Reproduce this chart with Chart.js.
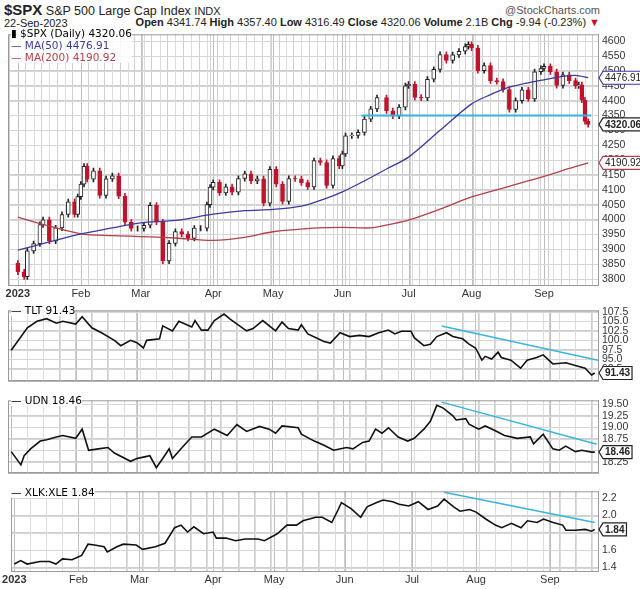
<!DOCTYPE html>
<html><head><meta charset="utf-8">
<script src="https://cdn.jsdelivr.net/npm/chart.js@4"></script>
<style>
body{margin:0;background:#fff;font-family:"Liberation Sans",Arial,sans-serif;}
#wrap{position:relative;width:640px;height:589px;overflow:hidden;}
.pan{position:absolute;left:0;width:640px;}
.t{position:absolute;white-space:nowrap;color:#222;}
.leg{position:absolute;left:11px;font-family:"DejaVu Sans",sans-serif;font-size:10.5px;line-height:12px;background:rgba(255,255,255,0.85);}
</style></head><body><div id="wrap">
<div class="t" style="left:4px;top:1px;font-size:12.5px;"><b style="font-size:15px;">$SPX</b> S&amp;P 500 Large Cap Index <span style="font-size:11px">INDX</span></div>
<div class="t" style="right:40px;top:4px;font-size:11px;color:#555;">@StockCharts.com</div>
<div class="t" style="left:4px;top:17px;font-size:11px;">22-Sep-2023</div>
<div class="t" style="right:40px;top:16px;font-size:11px;"><b>Open</b> 4341.74 <b>High</b> 4357.40 <b>Low</b> 4316.49 <b>Close</b> 4320.06 <b>Volume</b> 2.1B <b>Chg</b> -9.94 (-0.23%) <span style="color:#c0142c">▼</span></div>
<div class="pan" style="top:24px;height:276px;"><canvas id="c0"></canvas></div>
<div class="pan" style="top:300px;height:91px;"><canvas id="c1"></canvas></div>
<div class="pan" style="top:390px;height:93px;"><canvas id="c2"></canvas></div>
<div class="pan" style="top:481px;height:108px;"><canvas id="c3"></canvas></div>
<div class="leg" style="top:27px;">▮ $SPX (Daily) 4320.06<br><span style="color:#3a3a9a">— MA(50) 4476.91</span><br><span style="color:#b0404a">— MA(200) 4190.92</span></div>
<div class="leg" style="top:304px;">— TLT 91.43</div>
<div class="leg" style="top:394px;">— UDN 18.46</div>
<div class="leg" style="top:486px;">— XLK:XLE 1.84</div>
</div>
<script>
// ---- data ----
const monthIdx = [0,20,39,62,81,103,124,144,167];
const monthLbl = ['2023','Feb','Mar','Apr','May','Jun','Jul','Aug','Sep'];
const spxDays = [0,2,3,5,7,8,10,12,14,16,18,19,20,21,22,24,26,28,30,32,34,36,38,40,42,44,46,48,50,52,54,56,58,60,61,62,64,66,68,70,72,74,76,78,80,82,84,86,88,90,92,94,96,98,100,102,103,104,106,108,110,112,114,117,119,121,123,124,126,128,130,132,134,136,138,140,142,143,144,146,148,150,152,154,156,158,160,162,164,166,167,169,171,173,175,177,178,179,180,181];
const spxClose = [3824,3808,3895,3919,3983,3999,3928,3972,4017,4060,4017,4077,4119,4179,4136,4164,4081,4137,4147,4079,3991,3970,3970,3981,4048,3992,3861,3920,3960,3951,3937,3971,3971,4050,4109,4125,4090,4110,4092,4138,4154,4130,4137,4055,4169,4119,4061,4138,4137,4124,4110,4198,4192,4115,4205,4180,4221,4282,4283,4293,4338,4372,4410,4366,4348,4378,4450,4455,4411,4409,4472,4505,4555,4535,4554,4566,4582,4589,4577,4501,4518,4467,4464,4437,4370,4400,4436,4406,4497,4508,4515,4497,4451,4487,4467,4450,4453,4402,4330,4320];
const ma50Days = [0,10,20,30,39,50,62,72,81,90,97,103,110,117,124,134,144,150,156,162,167,172,177,181];
const ma50 = [3897,3925,3952,3972,3989,3997,4018,4030,4034,4045,4068,4093,4130,4170,4210,4300,4389,4420,4445,4460,4470,4480,4485,4477];
const ma200Days = [0,10,20,30,39,50,62,72,81,95,103,112,118,124,134,144,156,167,175,181];
const ma200 = [4008,3978,3952,3946,3943,3938,3930,3940,3959,3972,3974,3972,3984,3998,4035,4076,4112,4145,4172,4191];
const tltDays = [0,5,8,11,14,16,20,22,25,28,32,34,37,39,41,42,46,47,50,52,56,57,59,61,63,66,68,73,75,78,82,84,86,89,90,92,97,99,102,105,108,111,114,117,119,121,124,125,128,130,132,135,137,140,142,144,146,147,149,151,152,155,158,160,163,165,168,172,175,178,180,181];
const tlt = [97.4,103.3,105,105.7,104.5,105,104.3,106.2,103.3,102,100,98.6,100,99.4,98,100,100.4,103.8,102.5,105,103.5,105.2,102.7,102.7,105.2,106.9,105.5,102.5,103.1,105.2,102.5,104.8,103.1,102.7,104.1,101.7,99.7,99.3,102,101,101.3,101,102,102.7,101.7,102.4,102.4,100.7,98.6,99,101,102,101,100.4,99,98,94.8,95.8,95.1,96.9,95.5,94.8,92.7,94.8,95.5,96.2,93.8,94.1,93.4,92.7,90.9,91.43];
const udnDays = [0,3,4,6,9,11,14,16,20,22,24,27,30,32,37,39,41,43,45,47,49,50,53,56,59,63,67,70,73,77,80,82,84,89,90,94,97,100,104,106,109,111,113,115,117,120,123,125,128,130,132,134,137,138,141,142,145,147,150,153,157,161,162,165,168,170,172,175,177,180,181];
const udn = [18.47,18.18,18.38,18.53,18.70,18.73,18.79,18.82,18.76,18.96,18.50,18.53,18.56,18.44,18.26,18.32,18.35,18.38,18.12,18.32,18.53,18.32,18.56,18.79,18.79,18.96,18.82,19.06,18.91,19.02,18.96,18.87,19.03,18.99,18.85,18.70,18.61,18.50,18.56,18.53,18.67,18.70,18.96,18.87,18.99,18.79,18.70,18.76,18.96,19.13,19.48,19.42,19.25,19.16,19.19,19.07,18.96,19.03,18.93,18.82,18.76,18.79,18.64,18.85,18.53,18.50,18.59,18.47,18.50,18.46,18.46];
const xlkDays = [0,2,4,8,11,13,15,18,21,23,25,28,29,32,34,38,40,44,47,50,52,54,56,59,62,63,66,69,72,76,78,82,85,88,90,94,96,99,101,102,105,108,110,113,115,118,120,123,126,129,132,134,137,139,142,144,147,150,152,155,158,160,163,165,168,171,172,175,178,180,181];
const xlk = [1.44,1.48,1.44,1.47,1.47,1.44,1.50,1.49,1.54,1.67,1.66,1.64,1.58,1.64,1.67,1.66,1.61,1.64,1.68,1.86,1.89,1.81,1.87,1.79,1.81,1.74,1.74,1.71,1.73,1.73,1.71,1.79,1.89,1.89,1.94,1.98,1.98,1.92,2.07,2.15,2.08,1.98,2.10,2.15,2.18,2.16,2.13,2.11,2.16,2.07,2.11,2.19,2.10,2.05,2.07,2.04,1.96,1.89,1.86,1.91,1.86,1.94,1.92,1.96,1.92,1.89,1.83,1.83,1.84,1.82,1.84];
const spxTicks = [3800,3850,3900,3950,4000,4050,4100,4150,4200,4250,4300,4350,4400,4450,4500,4550,4600];
const tltTicks = [92.5,95,97.5,100,102.5,105,107.5];
const udnTicks = [18.25,18.5,18.75,19,19.25,19.5];
const xlkTicks = [1.4,1.6,1.8,2.0,2.2];
const supportLine = {days:[109,182], vals:[4350,4350]};
const tltTrend = {days:[133.5,182], vals:[103.8,94.8]};
const udnTrend = {days:[133.5,181.6], vals:[19.55,18.63]};
const xlkTrend = {days:[134,181], vals:[2.27,1.92]};

// ---- helpers ----
const pts = (d,v)=>d.map((x,i)=>({x:x,y:v[i]}));
const RED='#c0142c', CYAN='#38b4dc';
function xScale(show){
  return {type:'linear',min:-1,max:182,
    afterBuildTicks:s=>{const t=new Set(monthIdx);for(let i=0;i<=181;i+=5)t.add(i);s.ticks=[...t].sort((a,b)=>a-b).map(v=>({value:v}));},
    grid:{display:true,drawOnChartArea:true,color:'#cfcfcf',lineWidth:1,drawTicks:false},
    border:{display:true,color:'#999'},
    afterFit:s=>{s.height=show?15:0;},
    ticks:{display:show,autoSkip:false,maxRotation:0,padding:2,color:'#333',
      font:c=>({family:'Liberation Sans',size:11,weight:(c.tick&&c.tick.value===0)?'bold':'normal'}),
      callback:v=>{const k=monthIdx.indexOf(v);return k<0?'':monthLbl[k];}}};
}
function yScale(min,max,ticks,dec){
  return {position:'right',min:min,max:max,
    afterBuildTicks:s=>{s.ticks=ticks.map(v=>({value:v}));},
    afterFit:s=>{s.width=42;},
    grid:{display:true,drawOnChartArea:true,color:'#cfcfcf',lineWidth:1,drawTicks:false},border:{color:'#999'},
    ticks:{autoSkip:false,padding:4,color:'#333',font:{family:'Liberation Sans',size:10.5},callback:v=>v.toFixed(dec)}};
}
// draws grid explicitly from the scales' ticks as a fallback
const gridPlug={id:'gridPlug',beforeDatasetsDraw(ch){const a=ch.chartArea,c=ch.ctx;c.save();c.lineWidth=1;
  ch.scales.x.ticks.forEach(t=>{const x=Math.round(ch.scales.x.getPixelForValue(t.value))+0.5;c.strokeStyle=monthIdx.includes(t.value)?'#bdbdbd':'#dcdcdc';c.beginPath();c.moveTo(x,a.top);c.lineTo(x,a.bottom);c.stroke();});
  ch.scales.y.ticks.forEach(t=>{const y=Math.round(ch.scales.y.getPixelForValue(t.value))+0.5;c.strokeStyle='#d6d6d6';c.beginPath();c.moveTo(a.left,y);c.lineTo(a.right,y);c.stroke();});
  c.restore();}};
const frame={id:'frame',afterDraw(ch){const a=ch.chartArea,c=ch.ctx;c.save();c.strokeStyle='#999';c.lineWidth=1;c.strokeRect(a.left+0.5,a.top+0.5,a.right-a.left,a.bottom-a.top);c.restore();}};
function tagPlugin(tags){
  return {id:'tags',afterDraw(ch){
    const c=ch.ctx,ys=ch.scales.y,x0=ch.chartArea.right+1;
    tags.forEach(t=>{
      const y=ys.getPixelForValue(t.v);
      c.save();c.font=(t.bold?'bold ':'')+'10px Liberation Sans';
      const w=c.measureText(t.txt).width+4;
      c.beginPath();c.moveTo(x0,y);c.lineTo(x0+4,y-6.5);c.lineTo(x0+4+w,y-6.5);c.lineTo(x0+4+w,y+6.5);c.lineTo(x0+4,y+6.5);c.closePath();
      c.fillStyle='#fff';c.fill();c.strokeStyle=t.col;c.lineWidth=1.2;c.stroke();
      c.fillStyle=t.tcol||'#222';c.textBaseline='middle';c.fillText(t.txt,x0+6,y+0.5);c.restore();
    });
  }};
}
function lineDs(d,v,col,w){return {type:'line',data:pts(d,v),borderColor:col,borderWidth:w,pointRadius:0,tension:0.3,fill:false};}
const base={responsive:true,maintainAspectRatio:false,animation:false,plugins:{legend:{display:false},tooltip:{enabled:false}}};

// ---- main candle chart ----
const opens=spxClose.map((c,i)=>i===0?3853:spxClose[i-1]);
const bodies=spxDays.map((d,i)=>({x:d,y:[opens[i],spxClose[i]]}));
const wicks=spxDays.map((d,i)=>({x:d,y:[Math.min(opens[i],spxClose[i])-9,Math.max(opens[i],spxClose[i])+9]}));
const up=spxClose.map((c,i)=>c>=opens[i]);
new Chart(document.getElementById('c0'),{type:'bar',data:{datasets:[
  {type:'bar',data:wicks,backgroundColor:up.map(u=>u?'#222':RED),barThickness:1,grouped:false,order:3},
  {type:'bar',data:bodies,backgroundColor:up.map(u=>u?'#fff':RED),borderColor:up.map(u=>u?'#222':RED),borderWidth:1,borderSkipped:false,barThickness:4,grouped:false,order:2},
  lineDs(ma50Days,ma50,'#3a3a9a',1.3),
  lineDs(ma200Days,ma200,'#b0404a',1.3),
  {...lineDs(supportLine.days,supportLine.vals,CYAN,2),tension:0}
]},options:{...base,layout:{padding:{left:8,top:1,right:0,bottom:0}},
  scales:{x:xScale(true),y:yScale(3780,4623,spxTicks,0)}},
  plugins:[gridPlug,frame,tagPlugin([{v:4476.91,txt:'4476.91',col:'#3a3a9a'},{v:4190.92,txt:'4190.92',col:'#b0404a'},{v:4320.06,txt:'4320.06',col:'#222',bold:true}])]});

function panel(id,d,v,trend,min,max,ticks,dec,last,showX){
  new Chart(document.getElementById(id),{type:'line',data:{datasets:[
    {...lineDs(d,v,'#111',1.6),tension:0},{...lineDs(trend.days,trend.vals,CYAN,1.5),tension:0}]},
    options:{...base,layout:{padding:{left:8,top:1,right:0,bottom:showX?3:0}},
      scales:{x:xScale(showX),y:yScale(min,max,ticks,dec)}},
    plugins:[gridPlug,frame,tagPlugin([{v:v[v.length-1],txt:last,col:'#222',bold:true}])]});
}
panel('c1',tltDays,tlt,tltTrend,89.4,107.9,tltTicks,1,'91.43',false);
panel('c2',udnDays,udn,udnTrend,18.01,19.59,udnTicks,2,'18.46',false);
panel('c3',xlkDays,xlk,xlkTrend,1.36,2.28,xlkTicks,1,'1.84',true);
</script></body></html>
